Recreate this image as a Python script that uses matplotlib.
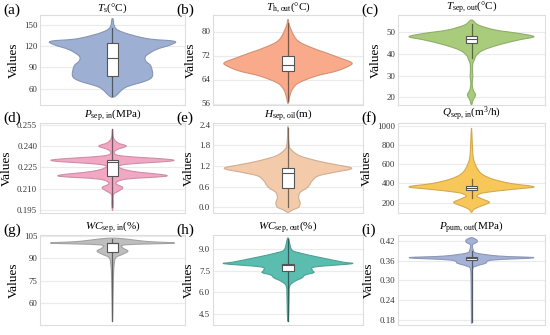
import numpy as np
import matplotlib
matplotlib.use("Agg")
import matplotlib.pyplot as plt
from matplotlib.colors import to_rgb
from matplotlib.path import Path
from matplotlib.patches import PathPatch
from matplotlib.ticker import FormatStrFormatter

plt.rcParams['font.family'] = ['Liberation Serif', 'DejaVu Serif']
plt.rcParams['mathtext.fontset'] = 'custom'
plt.rcParams['mathtext.rm'] = 'Liberation Serif'
plt.rcParams['mathtext.it'] = 'Liberation Serif:italic'

# ---------------- data ----------------
titles = [r"$T_\mathrm{s}$(°C)", r"$T_\mathrm{h,\,out}$(°C)", r"$T_\mathrm{sep,\,out}$(°C)",
          r"$P_\mathrm{sep,\,in}$(MPa)", r"$H_\mathrm{sep,\,oil}$(m)", r"$Q_\mathrm{sep,\,in}$(m$^3$/h)",
          r"$WC_\mathrm{sep,\,in}$(%)", r"$WC_\mathrm{sep,\,out}$(%)", r"$P_\mathrm{pum,\,out}$(MPa)"]
panel_labels = ["(a)", "(b)", "(c)", "(d)", "(e)", "(f)", "(g)", "(h)", "(i)"]

# violin outlines: value levels and relative density (half width)
a_vals = [159, 143, 131, 127, 122, 115, 106, 99, 92, 78, 71, 62, 50, 48]
a_dens = [0, 15, 100, 185, 175, 130, 100, 100, 115, 120, 100, 40, 10, 0]
b_vals = [84, 81.7, 77.3, 75, 72.9, 71.2, 69.6, 68.4, 66.8, 65.1, 62.8, 60.6, 58.4, 56]
b_dens = [0, 5, 25, 60, 110, 150, 185, 175, 140, 80, 30, 12, 5, 0]
c_vals = [55.7, 53.4, 51.1, 49.5, 48, 46.5, 44.2, 41.8, 39.5, 37.2, 35.6, 32.5, 29.5, 26.5, 23.4, 21.2, 18.9, 16.6]
c_dens = [0, 20, 70, 140, 185, 140, 80, 35, 15, 8, 4, 3, 4, 2, 5, 12, 5, 0]
d_vals = [0.2515, 0.2457, 0.2423, 0.240, 0.2377, 0.2353, 0.233, 0.230, 0.2272, 0.225, 0.2222,
          0.2191, 0.2168, 0.2138, 0.211, 0.2087, 0.2059, 0.1994, 0.1947]
d_dens = [0, 3, 15, 40, 15, 5, 30, 180, 40, 20, 60, 160, 40, 10, 30, 20, 3, 2, 0]
e_vals = [2.35, 1.87, 1.68, 1.49, 1.34, 1.25, 1.13, 1.01, 0.91, 0.77, 0.58, 0.43, 0.27, 0.12, 0.0, -0.08, -0.15]
e_dens = [0, 3, 10, 40, 100, 150, 210, 150, 100, 80, 65, 40, 35, 40, 35, 15, 0]
f_vals = [983, 843, 670, 565, 497, 445, 400, 365, 340, 306, 271, 237, 202, 167, 132, 98]
f_dens = [0, 2, 5, 15, 30, 60, 110, 175, 120, 40, 15, 30, 50, 30, 8, 0]
g_vals = [103.3, 101.1, 100, 98.9, 96.9, 94.7, 92.6, 90.4, 86.1, 79.7, 71.1, 58.3, 47.6]
g_dens = [0, 100, 180, 40, 30, 45, 30, 10, 5, 3, 2, 1, 0]
h_vals = [9.8, 9.0, 8.77, 8.44, 8.1, 7.99, 7.77, 7.55, 7.37, 7.2, 6.99, 6.76, 6.43, 5.73, 4.6, 3.95]
h_dens = [0, 10, 30, 90, 160, 185, 80, 70, 75, 50, 40, 20, 5, 3, 2, 0]
i_vals = [0.430, 0.423, 0.416, 0.408, 0.393, 0.383, 0.374, 0.369, 0.362, 0.352, 0.344, 0.334, 0.28, 0.17]
i_dens = [0, 15, 15, 3, 5, 15, 80, 180, 60, 40, 15, 3, 1, 0]

# box stats: whisker low, q1, median, q3, whisker high
a_box = [50, 78, 103, 124, 145]
b_box = [57, 67, 69, 72, 83]
c_box = [38, 45, 47, 48.5, 54]
d_box = [0.197, 0.219, 0.229, 0.230, 0.252]
e_box = [0.0, 0.57, 1.0, 1.14, 2.3]
f_box = [250, 330, 355, 375, 450]
g_box = [48, 94, 100, 100, 103]
h_box = [4.0, 7.5, 7.9, 8.0, 9.7]
i_box = [0.175, 0.362, 0.368, 0.372, 0.39]

violin_vals = [a_vals, b_vals, c_vals, d_vals, e_vals, f_vals, g_vals, h_vals, i_vals]
violin_dens = [a_dens, b_dens, c_dens, d_dens, e_dens, f_dens, g_dens, h_dens, i_dens]
boxes = [a_box, b_box, c_box, d_box, e_box, f_box, g_box, h_box, i_box]

yticks = [[60, 90, 120, 150], [56, 64, 72, 80], [20, 30, 40, 50],
          [0.195, 0.210, 0.225, 0.240, 0.255], [0.0, 0.6, 1.2, 1.8, 2.4], [200, 400, 600, 800, 1000],
          [60, 75, 90, 105], [4.5, 6.0, 7.5, 9.0], [0.18, 0.24, 0.30, 0.36, 0.42]]
ylims = [(37, 164), (55.5, 85.5), (16.5, 58), (0.193, 0.2562), (-0.17, 2.45), (90, 1035),
         (45.5, 105.4), (3.7, 10.0), (0.165, 0.438)]
fmts = ['%d', '%d', '%d', '%.3f', '%.1f', '%d', '%d', '%.1f', '%.2f']
colors = ['#9DAFD2', '#F9AA8A', '#A9CC7C', '#F2A7C2', '#F3CBAA', '#F7C859', '#BEBEBE', '#5BBDAF', '#A3B2D6']


def curve_path(pts):
    """Catmull-Rom style cubic Bezier outline passing through every read point (closed)."""
    n = len(pts)
    verts = [pts[0]]
    codes = [Path.MOVETO]
    for j in range(n):
        p0 = pts[(j - 1) % n]
        p1 = pts[j]
        p2 = pts[(j + 1) % n]
        p3 = pts[(j + 2) % n]
        c1 = p1 + (p2 - p0) / 6.0
        c2 = p2 - (p3 - p1) / 6.0
        verts += [c1, c2, p2]
        codes += [Path.CURVE4] * 3
    return Path(np.array(verts), codes)


# ---------------- layout ----------------
W, H = 550, 335
fig = plt.figure(figsize=(W / 100, H / 100), dpi=100)
cols = [(40, 185), (213, 363), (398, 545)]
rows = [(15, 105), (123, 213), (235, 325)]

for k in range(9):
    r, c = divmod(k, 3)
    x0, x1 = cols[c]
    y0, y1 = rows[r]
    ax = fig.add_axes([x0 / W, 1 - y1 / H, (x1 - x0) / W, (y1 - y0) / H])
    col = np.array(to_rgb(colors[k]))
    edge = col * 0.85
    dark = col * 0.5

    vals = np.array(violin_vals[k], dtype=float)
    dens = np.array(violin_dens[k], dtype=float)
    hw = dens / dens.max() * 0.85
    # outline: right side top->bottom, then left side bottom->top (shared tips)
    xs = np.concatenate([hw, -hw[::-1][1:-1]])
    ys = np.concatenate([vals, vals[::-1][1:-1]])
    # build in display-independent scaled coords so curve control points are balanced
    lo, hi = ax.get_ylim() if False else ylims[k]
    pts = np.column_stack([xs, ys])
    ax.add_patch(PathPatch(curve_path(pts), facecolor=colors[k], edgecolor=edge,
                           linewidth=0.8, zorder=2))

    wl, q1, med, q3, wh = boxes[k]
    ax.plot([0, 0], [wl, wh], color=dark, lw=0.9, zorder=3)
    bw = 0.075
    ax.add_patch(plt.Rectangle((-bw, q1), 2 * bw, q3 - q1, facecolor='white',
                               edgecolor='#555555', lw=0.8, zorder=4))
    ax.plot([-bw, bw], [med, med], color='#555555', lw=0.8, zorder=5)

    ax.set_xlim(-1, 1)
    ax.set_ylim(*ylims[k])
    ax.set_yticks(yticks[k])
    ax.yaxis.set_major_formatter(FormatStrFormatter(fmts[k]))
    ax.set_xticks([])
    ax.tick_params(axis='y', length=0, pad=2, labelsize=6.3, colors='#333333')
    ax.grid(axis='y', color='#EBEBEB', lw=0.8, zorder=0)
    ax.set_axisbelow(True)
    for s in ax.spines.values():
        s.set_color('#DDDDDD')
        s.set_linewidth(0.8)
    ax.set_ylabel('Values', fontsize=9.5, labelpad=3)
    ax.set_title(titles[k], fontsize=8, pad=2)
    fig.text((x0 - 37) / W, 1 - (y0 - 5) / H, panel_labels[k], fontsize=11, va='center', ha='left')

fig.savefig('out.png', dpi=100, facecolor='white')
